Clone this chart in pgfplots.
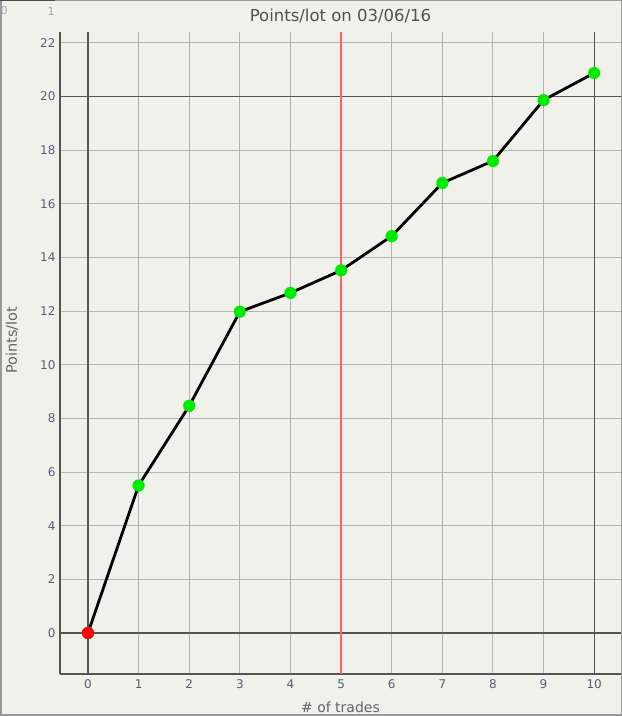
\documentclass[border=0pt]{standalone}
\usepackage{pgfplots}
\pgfplotsset{compat=1.18}
\usepackage{fontspec}
\setmainfont{DejaVu Sans}
\definecolor{bg}{RGB}{241,241,236}
\definecolor{gridc}{RGB}{180,180,176}
\definecolor{darkc}{RGB}{85,85,85}
\definecolor{tickc}{RGB}{85,95,120}
\definecolor{labc}{RGB}{95,100,110}
\definecolor{titc}{RGB}{80,80,85}
\definecolor{ptgreen}{RGB}{0,235,0}
\definecolor{vline}{RGB}{255,95,110}
\begin{document}
\begin{tikzpicture}[x=1pt,y=1pt]
\useasboundingbox (0,0) rectangle (622,716);
\fill[bg] (0,0) rectangle (622,716);
\draw[gray!80, line width=1.5pt] (0.75,0.75) rectangle (621.25,715.25);
\draw[gray!60!black, line width=1.5pt] (0,715.25) -- (55,715.25);
\node[font=\fontsize{11}{12}\selectfont, text=tickc!55, anchor=west, inner sep=0pt] at (0.5,705) {0};
\node[font=\fontsize{11}{12}\selectfont, text=tickc!55, anchor=center] at (51,705) {1};
\begin{axis}[
  at={(60pt,42pt)}, anchor=south west,
  scale only axis, width=561pt, height=642pt,
  xmin=-0.553, xmax=10.53, ymin=-1.53, ymax=22.41,
  axis x line*=bottom, axis y line*=left,
  axis line style={darkc, line width=1.2pt, -},
  xtick={0,1,...,10}, ytick={0,2,...,22},
  major tick length=0pt,
  grid=major, grid style={gridc, line width=1pt},
  extra x ticks={0,10}, extra x tick labels={},
  extra x tick style={grid style={darkc, line width=1.2pt}},
  extra y ticks={0,20}, extra y tick labels={},
  extra y tick style={grid style={darkc, line width=1.2pt}},
  /pgf/number format/assume math mode=true,
  tick label style={font=\fontsize{12}{14}\selectfont, text=tickc},
  xticklabel style={yshift=-2pt},
  yticklabel style={xshift=-1pt},
  title={Points/lot on 03/06/16},
  title style={font=\fontsize{16.5}{18}\selectfont, text=titc, at={(axis description cs:0.5,1)}, anchor=center, yshift=10pt},
  xlabel={\# of trades},
  xlabel style={font=\fontsize{14}{16}\selectfont, text=labc, at={(axis description cs:0.5,0)}, anchor=center, yshift=-33pt},
  ylabel={Points/lot},
  ylabel style={font=\fontsize{14.5}{16}\selectfont, text=labc, at={(axis description cs:0,0.52)}, anchor=center, yshift=48pt},
  clip=false,
]
\addplot[draw=vline, line width=1.2pt, mark=none, forget plot] coordinates {(5,-1.53) (5,22.41)};
\addplot[black, line width=2.8pt, mark=*, mark size=6pt, mark options={solid, fill=ptgreen, draw=ptgreen, line width=0.1pt}] coordinates {
(0,0) (1,5.5) (2,8.47) (3,11.98) (4,12.68) (5,13.52) (6,14.8) (7,16.78) (8,17.6) (9,19.87) (10,20.88)};
\addplot[only marks, mark=*, mark size=6pt, mark options={fill=red, draw=red, line width=0.1pt}] coordinates {(0,0)};
\end{axis}
\end{tikzpicture}
\end{document}
